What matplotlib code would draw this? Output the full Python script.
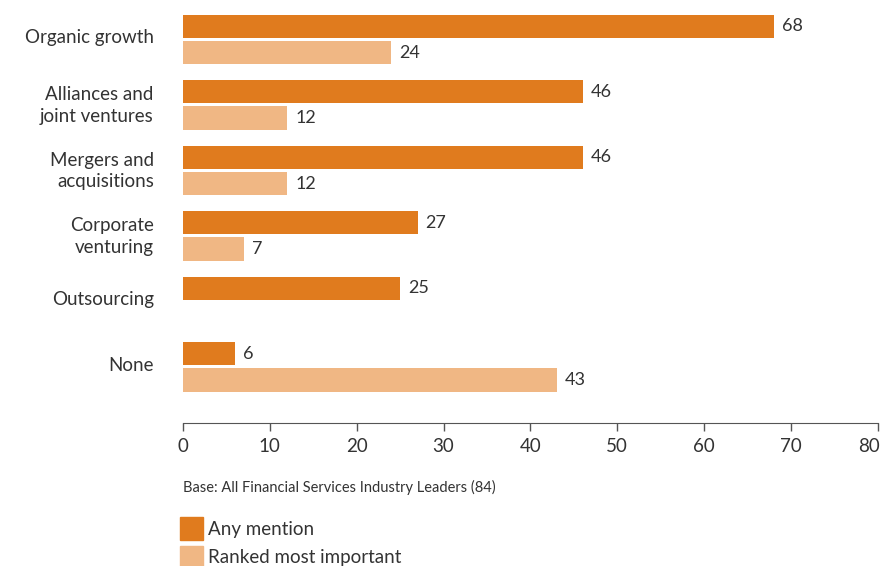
import numpy as np
import matplotlib.pyplot as plt
from matplotlib.patches import Rectangle
from matplotlib.transforms import ScaledTranslation

plt.rcParams['font.family'] = ['Lato', 'DejaVu Sans']

categories = ["Organic growth", "Alliances and\njoint ventures", "Mergers and\nacquisitions",
              "Corporate\nventuring", "Outsourcing", "None"]
any_mention = [68, 46, 46, 27, 25, 6]
ranked_most = [24, 12, 12, 7, None, 43]

dark = '#E07B1E'
light = '#F0B784'
text_col = '#333333'

W, H = 886, 566
fig = plt.figure(figsize=(W / 100, H / 100), dpi=100)
ax = fig.add_axes([0.2065, 0.2527, 0.7844, 0.747])

pos = np.arange(len(categories))
h = 0.354
off = 0.2

for i, (a, r) in enumerate(zip(any_mention, ranked_most)):
    ax.barh(pos[i] - off, a, height=h, color=dark)
    ax.text(a + 0.9, pos[i] - off, str(a), va='center', ha='left', fontsize=13, color=text_col)
    if r is not None:
        ax.barh(pos[i] + off, r, height=h, color=light)
        ax.text(r + 0.9, pos[i] + off, str(r), va='center', ha='left', fontsize=13, color=text_col)

ax.set_xlim(0, 80)
ax.set_ylim(5.855, -0.6)
ax.set_xticks(range(0, 81, 10))
ax.set_yticks(pos)
ax.set_yticklabels(categories, fontsize=13.5, color=text_col, multialignment='right',
                   linespacing=1.3)
ax.tick_params(axis='y', length=0, pad=21)
ax.tick_params(axis='x', length=6, width=1, color='#555555', labelsize=13.5,
               labelcolor=text_col, pad=5)

# nudge category labels up a little
for lbl in ax.get_yticklabels():
    lbl.set_transform(lbl.get_transform() + ScaledTranslation(0, 3 / 100, fig.dpi_scale_trans))

# keep the last tick label inside the figure
fig.canvas.draw()
last = ax.get_xticklabels()[-1]
last.set_horizontalalignment('right')
last.set_transform(last.get_transform() + ScaledTranslation(2 / 100, 0, fig.dpi_scale_trans))

for side in ['top', 'right', 'left']:
    ax.spines[side].set_visible(False)
ax.spines['bottom'].set_color('#555555')

fig.text(183 / W, 1 - 487 / H, "Base: All Financial Services Industry Leaders (84)",
         fontsize=10.5, color=text_col, va='center', ha='left')

# legend: swatches and labels
for k, (col, name) in enumerate([(dark, 'Any mention'), (light, 'Ranked most important')]):
    top = 517 + 29 * k
    fig.add_artist(Rectangle((180 / W, 1 - (top + 23) / H), 23 / W, 23 / H,
                             transform=fig.transFigure, color=col))
    fig.text(208 / W, 1 - (top + 12) / H, name, fontsize=13.5, color=text_col,
             va='center', ha='left')

fig.savefig('out.png', dpi=100)
